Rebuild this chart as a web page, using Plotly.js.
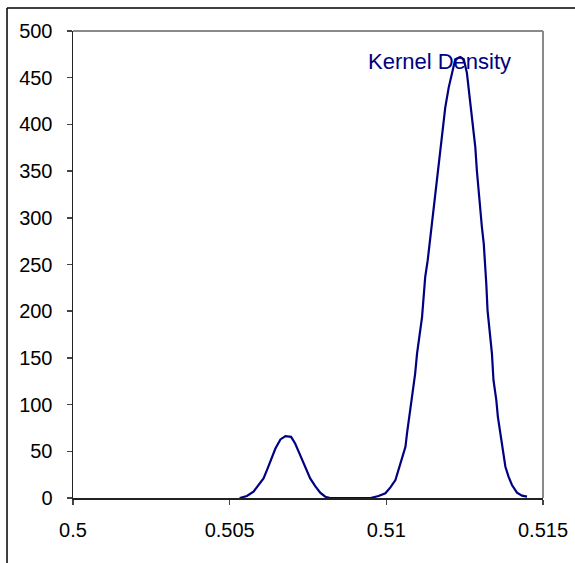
<!DOCTYPE html>
<html>
<head>
<meta charset="utf-8">
<script src="https://cdn.plot.ly/plotly-3.0.1.min.js"></script>
<style>html,body{margin:0;padding:0;background:#fff;}#chart{width:575px;height:563px;}</style>
</head>
<body>
<div id="chart"></div>
<script>
const seriesName = "Kernel Density";
const densityX = [0.50532,0.50555,0.50576,0.50592,0.50608,0.50619,0.50632,0.50646,0.50662,0.50678,0.50696,0.50709,0.50725,0.50741,0.50757,0.50773,0.50789,0.50805,0.50821,
  0.50949,0.50975,0.50997,0.51013,0.51029,0.51039,0.51050,0.51061,0.51066,0.51071,0.51076,0.51085,0.51092,0.51098,0.51106,0.51114,0.51119,0.51124,0.51132,0.51138,0.51144,0.51151,0.51157,0.51167,0.51172,0.51181,0.51188,0.51199,0.51210,0.51220,
  0.51236,0.51247,0.51257,0.51263,0.51273,0.51284,0.51289,0.51298,0.51305,0.51311,0.51316,0.51319,0.51323,0.51330,0.51337,0.51342,0.51351,0.51356,0.51364,0.51372,0.51380,0.51390,0.51401,0.51417,0.51433,0.51449];
const densityY = [0,2.1,6.7,13.9,21,29.9,40.6,53,62.7,66.2,65.5,58.4,45.9,32.8,21,12.8,5.7,1.4,0,
  0,2.1,5,11.4,19.2,29.9,42.4,54.8,69.1,81.5,94,111.9,133.2,154.6,176,193.7,215,236.4,254.3,272.1,289.9,307.7,329,354,375.3,396.7,418,439.4,457,469.8,
  472.2,469.8,455.4,435.9,403.8,375.3,350.4,311.2,289.9,272,250.7,229.4,200.9,176,154.6,126.1,104.7,86.9,69.1,51.3,33.5,22.8,13.9,5.7,2.5,1.4];
const xTicks = [0.5, 0.505, 0.51, 0.515];
const xTickText = ["0.5", "0.505", "0.51", "0.515"];
const yTicks = [0, 50, 100, 150, 200, 250, 300, 350, 400, 450, 500];

const font = "Liberation Sans, Arial, sans-serif";
const trace = {
  x: densityX, y: densityY, type: "scatter", mode: "lines",
  line: {color: "#000080", width: 2.2}, hoverinfo: "skip", showlegend: false
};
const layout = {
  width: 575, height: 563,
  margin: {l: 73, r: 32, t: 31, b: 65, pad: 0},
  paper_bgcolor: "#ffffff", plot_bgcolor: "#ffffff",
  font: {family: font, size: 20, color: "#000"},
  showlegend: false,
  xaxis: {
    range: [0.5, 0.515], tickvals: xTicks, ticktext: xTickText,
    showgrid: false, zeroline: false, showline: true, linecolor: "#222", linewidth: 1.5,
    ticks: "outside", ticklen: 5, tickcolor: "#444", tickwidth: 1.5,
    ticklabelstandoff: 8, tickfont: {family: font, size: 20, color: "#000"},
    layer: "below traces", fixedrange: true
  },
  yaxis: {
    range: [0, 500], tickvals: yTicks,
    showgrid: false, zeroline: false, showline: true, linecolor: "#222", linewidth: 1.5,
    ticks: "outside", ticklen: 5, tickcolor: "#444", tickwidth: 1.5,
    ticklabelstandoff: 10, tickfont: {family: font, size: 20, color: "#000"},
    layer: "below traces", fixedrange: true
  },
  shapes: [
    {type: "line", xref: "paper", yref: "paper", x0: 0, x1: 1, y0: 1, y1: 1, line: {color: "#8a8a8a", width: 2}, layer: "below"},
    {type: "line", xref: "paper", yref: "paper", x0: 1, x1: 1, y0: 0, y1: 1, line: {color: "#8a8a8a", width: 2}, layer: "below"},
    {type: "line", xref: "paper", yref: "paper", x0: -0.1404, x1: 1.2, y0: 1.0492, y1: 1.0492, line: {color: "#000", width: 1.5}},
    {type: "line", xref: "paper", yref: "paper", x0: -0.1404, x1: -0.1404, y0: -0.2, y1: 1.0492, line: {color: "#000", width: 1.5}}
  ],
  annotations: [{
    text: seriesName, x: 0.511681, y: 467, xref: "x", yref: "y",
    xanchor: "center", yanchor: "middle", showarrow: false,
    font: {family: font, size: 22, color: "#000080"}
  }]
};
Plotly.newPlot("chart", [trace], layout, {staticPlot: true, displayModeBar: false});
</script>
</body>
</html>
